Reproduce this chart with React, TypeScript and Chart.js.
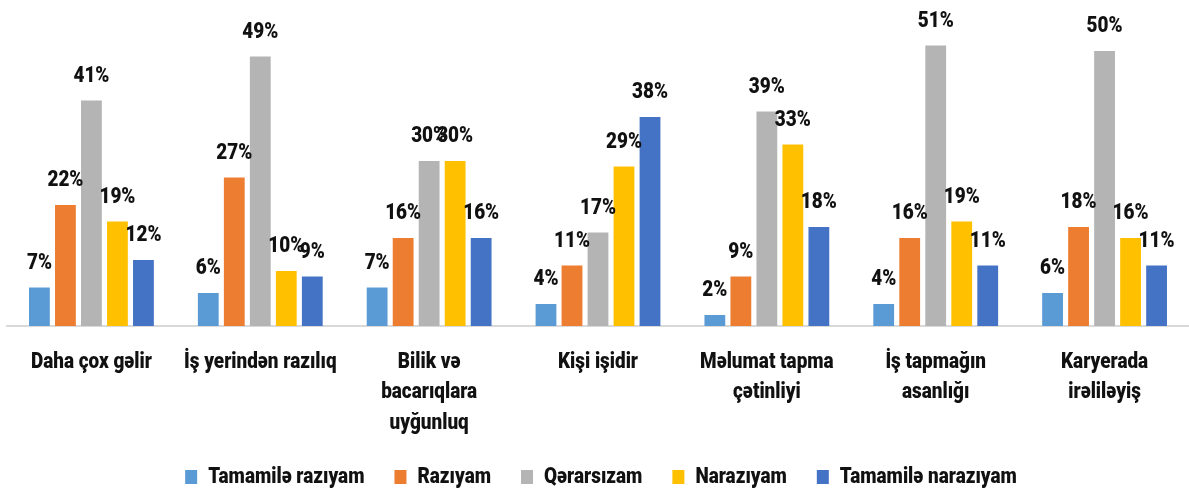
import React, { useEffect, useRef } from "react";
import { Chart, registerables } from "chart.js";

Chart.register(...registerables);

const categories: string[][] = [
  ["Daha çox gəlir"],
  ["İş yerindən razılıq"],
  ["Bilik və", "bacarıqlara", "uyğunluq"],
  ["Kişi işidir"],
  ["Məlumat tapma", "çətinliyi"],
  ["İş tapmağın", "asanlığı"],
  ["Karyerada", "irəliləyiş"],
];

const seriesNames = ["Tamamilə razıyam", "Razıyam", "Qərarsızam", "Narazıyam", "Tamamilə narazıyam"];
const seriesColors = ["#5B9BD5", "#ED7D31", "#B4B4B4", "#FFC000", "#4472C4"];

const tamamileRaziyam = [7, 6, 7, 4, 2, 4, 6];
const raziyam = [22, 27, 16, 11, 9, 16, 18];
const qerarsizam = [41, 49, 30, 17, 39, 51, 50];
const naraziyam = [19, 10, 30, 29, 33, 19, 16];
const tamamileNaraziyam = [12, 9, 16, 38, 18, 11, 11];

const seriesValues = [tamamileRaziyam, raziyam, qerarsizam, naraziyam, tamamileNaraziyam];

const FONT = "Roboto, 'DejaVu Sans', sans-serif";
const FONT_SIZE = 22;
const FONT_WEIGHT = "900";
const SX = 0.86; // horizontal condensing of all text

function condenseText(ctx: any) {
  if (ctx.__condensed) return;
  ctx.__condensed = true;
  const origFill = ctx.fillText.bind(ctx);
  const origMeasure = ctx.measureText.bind(ctx);
  ctx.fillText = (text: string, x: number, y: number, maxWidth?: number) => {
    ctx.save();
    ctx.translate(x, y);
    ctx.scale(SX, 1);
    if (maxWidth !== undefined) origFill(text, 0, 0, maxWidth / SX);
    else origFill(text, 0, 0);
    ctx.restore();
  };
  ctx.measureText = (text: string) => {
    const m = origMeasure(text);
    return {
      width: m.width * SX,
      actualBoundingBoxLeft: m.actualBoundingBoxLeft * SX,
      actualBoundingBoxRight: m.actualBoundingBoxRight * SX,
      actualBoundingBoxAscent: m.actualBoundingBoxAscent,
      actualBoundingBoxDescent: m.actualBoundingBoxDescent,
      fontBoundingBoxAscent: m.fontBoundingBoxAscent,
      fontBoundingBoxDescent: m.fontBoundingBoxDescent,
    };
  };
}

const valueLabels = {
  id: "valueLabels",
  afterDatasetsDraw(chart: any) {
    const ctx = chart.ctx;
    ctx.save();
    ctx.font = `${FONT_WEIGHT} ${FONT_SIZE}px ${FONT}`;
    ctx.fillStyle = "#111111";
    ctx.textAlign = "center";
    ctx.textBaseline = "alphabetic";
    chart.data.datasets.forEach((ds: any, di: number) => {
      const meta = chart.getDatasetMeta(di);
      meta.data.forEach((bar: any, i: number) => {
        ctx.fillText(`${ds.data[i]}%`, bar.x, bar.y - 19);
      });
    });
    ctx.restore();
  },
};

const legendShift = {
  id: "legendShift",
  afterLayout(chart: any) {
    if (chart.legend) {
      chart.legend.left += 3;
      chart.legend.right += 3;
    }
  },
};

export default function App() {
  const ref = useRef<HTMLCanvasElement | null>(null);
  useEffect(() => {
    if (!ref.current) return;
    const ctx = ref.current.getContext("2d");
    condenseText(ctx);
    const chart = new Chart(ref.current, {
      type: "bar",
      data: {
        labels: categories,
        datasets: seriesNames.map((name, i) => ({
          label: name,
          data: seriesValues[i],
          backgroundColor: seriesColors[i],
          borderWidth: 0,
          barPercentage: 0.8,
          categoryPercentage: 0.77,
        })),
      },
      options: {
        animation: false,
        responsive: false,
        maintainAspectRatio: false,
        layout: { padding: { left: 7, right: 0, top: 18, bottom: -9 } },
        plugins: {
          legend: {
            position: "bottom",
            labels: {
              boxWidth: 12,
              boxHeight: 14,
              padding: 30,
              color: "#111111",
              font: { family: FONT, size: FONT_SIZE, weight: FONT_WEIGHT },
            },
          },
          tooltip: { enabled: false },
        },
        scales: {
          x: {
            grid: { display: false, drawTicks: false },
            border: { display: true, color: "#D9D9D9", width: 2 },
            ticks: {
              padding: 21,
              color: "#111111",
              maxRotation: 0,
              autoSkip: false,
              font: { family: FONT, size: FONT_SIZE, weight: FONT_WEIGHT, lineHeight: 1.39 },
            },
            afterFit: (scale: any) => {
              scale.height = 110;
            },
          },
          y: {
            display: false,
            min: 0,
            max: 56,
          },
        },
      },
      plugins: [valueLabels, legendShift],
    });
    return () => chart.destroy();
  }, []);
  return (
    <div style={{ position: "absolute", left: 0, top: 0, width: 1189, height: 489, background: "#fff" }}>
      <canvas ref={ref} width={1189} height={489} style={{ width: 1189, height: 489, display: "block" }} />
    </div>
  );
}
